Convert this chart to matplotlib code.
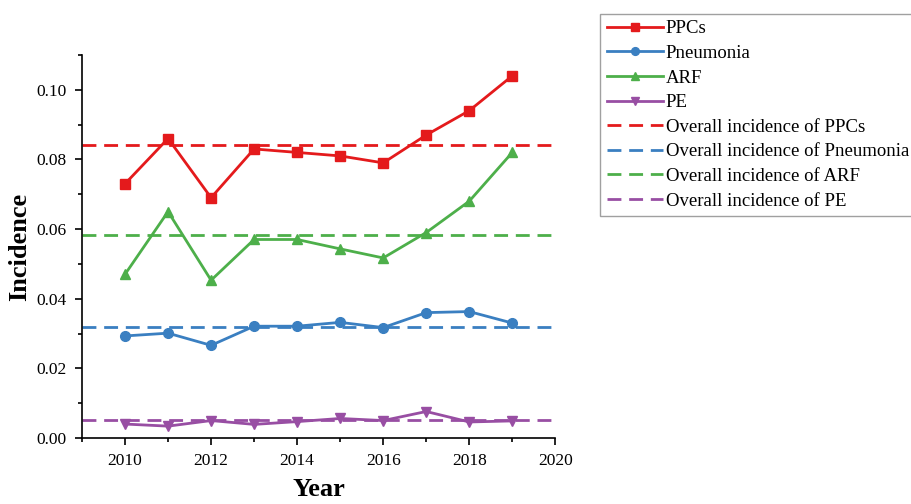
import matplotlib.pyplot as plt
import numpy as np

years = [2010, 2011, 2012, 2013, 2014, 2015, 2016, 2017, 2018, 2019]
ppcs = [0.073, 0.086, 0.069, 0.083, 0.082, 0.081, 0.079, 0.087, 0.094, 0.104]
pneumonia = [0.0293, 0.0301, 0.0266, 0.0321, 0.0321, 0.0332, 0.0317, 0.0360, 0.0363, 0.0330]
arf = [0.047, 0.065, 0.0453, 0.057, 0.057, 0.0543, 0.0517, 0.059, 0.068, 0.082]
pe = [0.0040, 0.0034, 0.0050, 0.0039, 0.0047, 0.0056, 0.0050, 0.0076, 0.0046, 0.0049]

overall = {'PPCs': 0.084, 'Pneumonia': 0.032, 'ARF': 0.0584, 'PE': 0.0051}

colors = {'PPCs': '#e41a1c', 'Pneumonia': '#3a7fc1', 'ARF': '#4daf4a', 'PE': '#984ea3'}
markers = {'PPCs': 's', 'Pneumonia': 'o', 'ARF': '^', 'PE': 'v'}
series = {'PPCs': ppcs, 'Pneumonia': pneumonia, 'ARF': arf, 'PE': pe}

plt.rcParams['font.family'] = ['Liberation Serif', 'DejaVu Serif']

fig = plt.figure(figsize=(9.12, 5.04), dpi=100)
ax = fig.add_axes([0.0899, 0.131, 0.519, 0.760])

handles = []
for name, vals in series.items():
    h, = ax.plot(years, vals, color=colors[name], marker=markers[name],
                 markersize=7, lw=2, label=name)
    handles.append(h)

for name in series:
    h = ax.axhline(overall[name], color=colors[name], lw=2, dashes=(5, 2.8),
                   label='Overall incidence of ' + name)
    handles.append(h)

ax.set_xlim(2009, 2020)
ax.set_ylim(0, 0.110)
ax.set_xticks(np.arange(2010, 2021, 2))
ax.set_xticks(np.arange(2009, 2021, 1), minor=True)
ax.set_yticks(np.arange(0, 0.101, 0.02))
ax.set_yticks(np.arange(0, 0.111, 0.01), minor=True)
ax.yaxis.set_major_formatter(plt.FormatStrFormatter('%.2f'))
ax.tick_params(axis='both', which='major', labelsize=12.5, length=5, width=1.2,
               direction='out', pad=6)
ax.tick_params(axis='both', which='minor', length=3, width=1.2, direction='out')
ax.spines['top'].set_visible(False)
ax.spines['right'].set_visible(False)
for s in ['left', 'bottom']:
    ax.spines[s].set_linewidth(1.2)

ax.set_xlabel('Year', fontsize=19, fontweight='bold', labelpad=6)
ax.set_ylabel('Incidence', fontsize=19, fontweight='bold', labelpad=4)

leg = fig.legend(handles=handles, loc='upper left', bbox_to_anchor=(0.658, 0.973),
                 fontsize=13.5, frameon=True, fancybox=False, edgecolor='#888888',
                 handlelength=3.0, handletextpad=0.15, labelspacing=0.40,
                 borderpad=0.35, borderaxespad=0, markerscale=0.8)
leg.get_frame().set_linewidth(1.0)

fig.savefig('out.png', dpi=100)
